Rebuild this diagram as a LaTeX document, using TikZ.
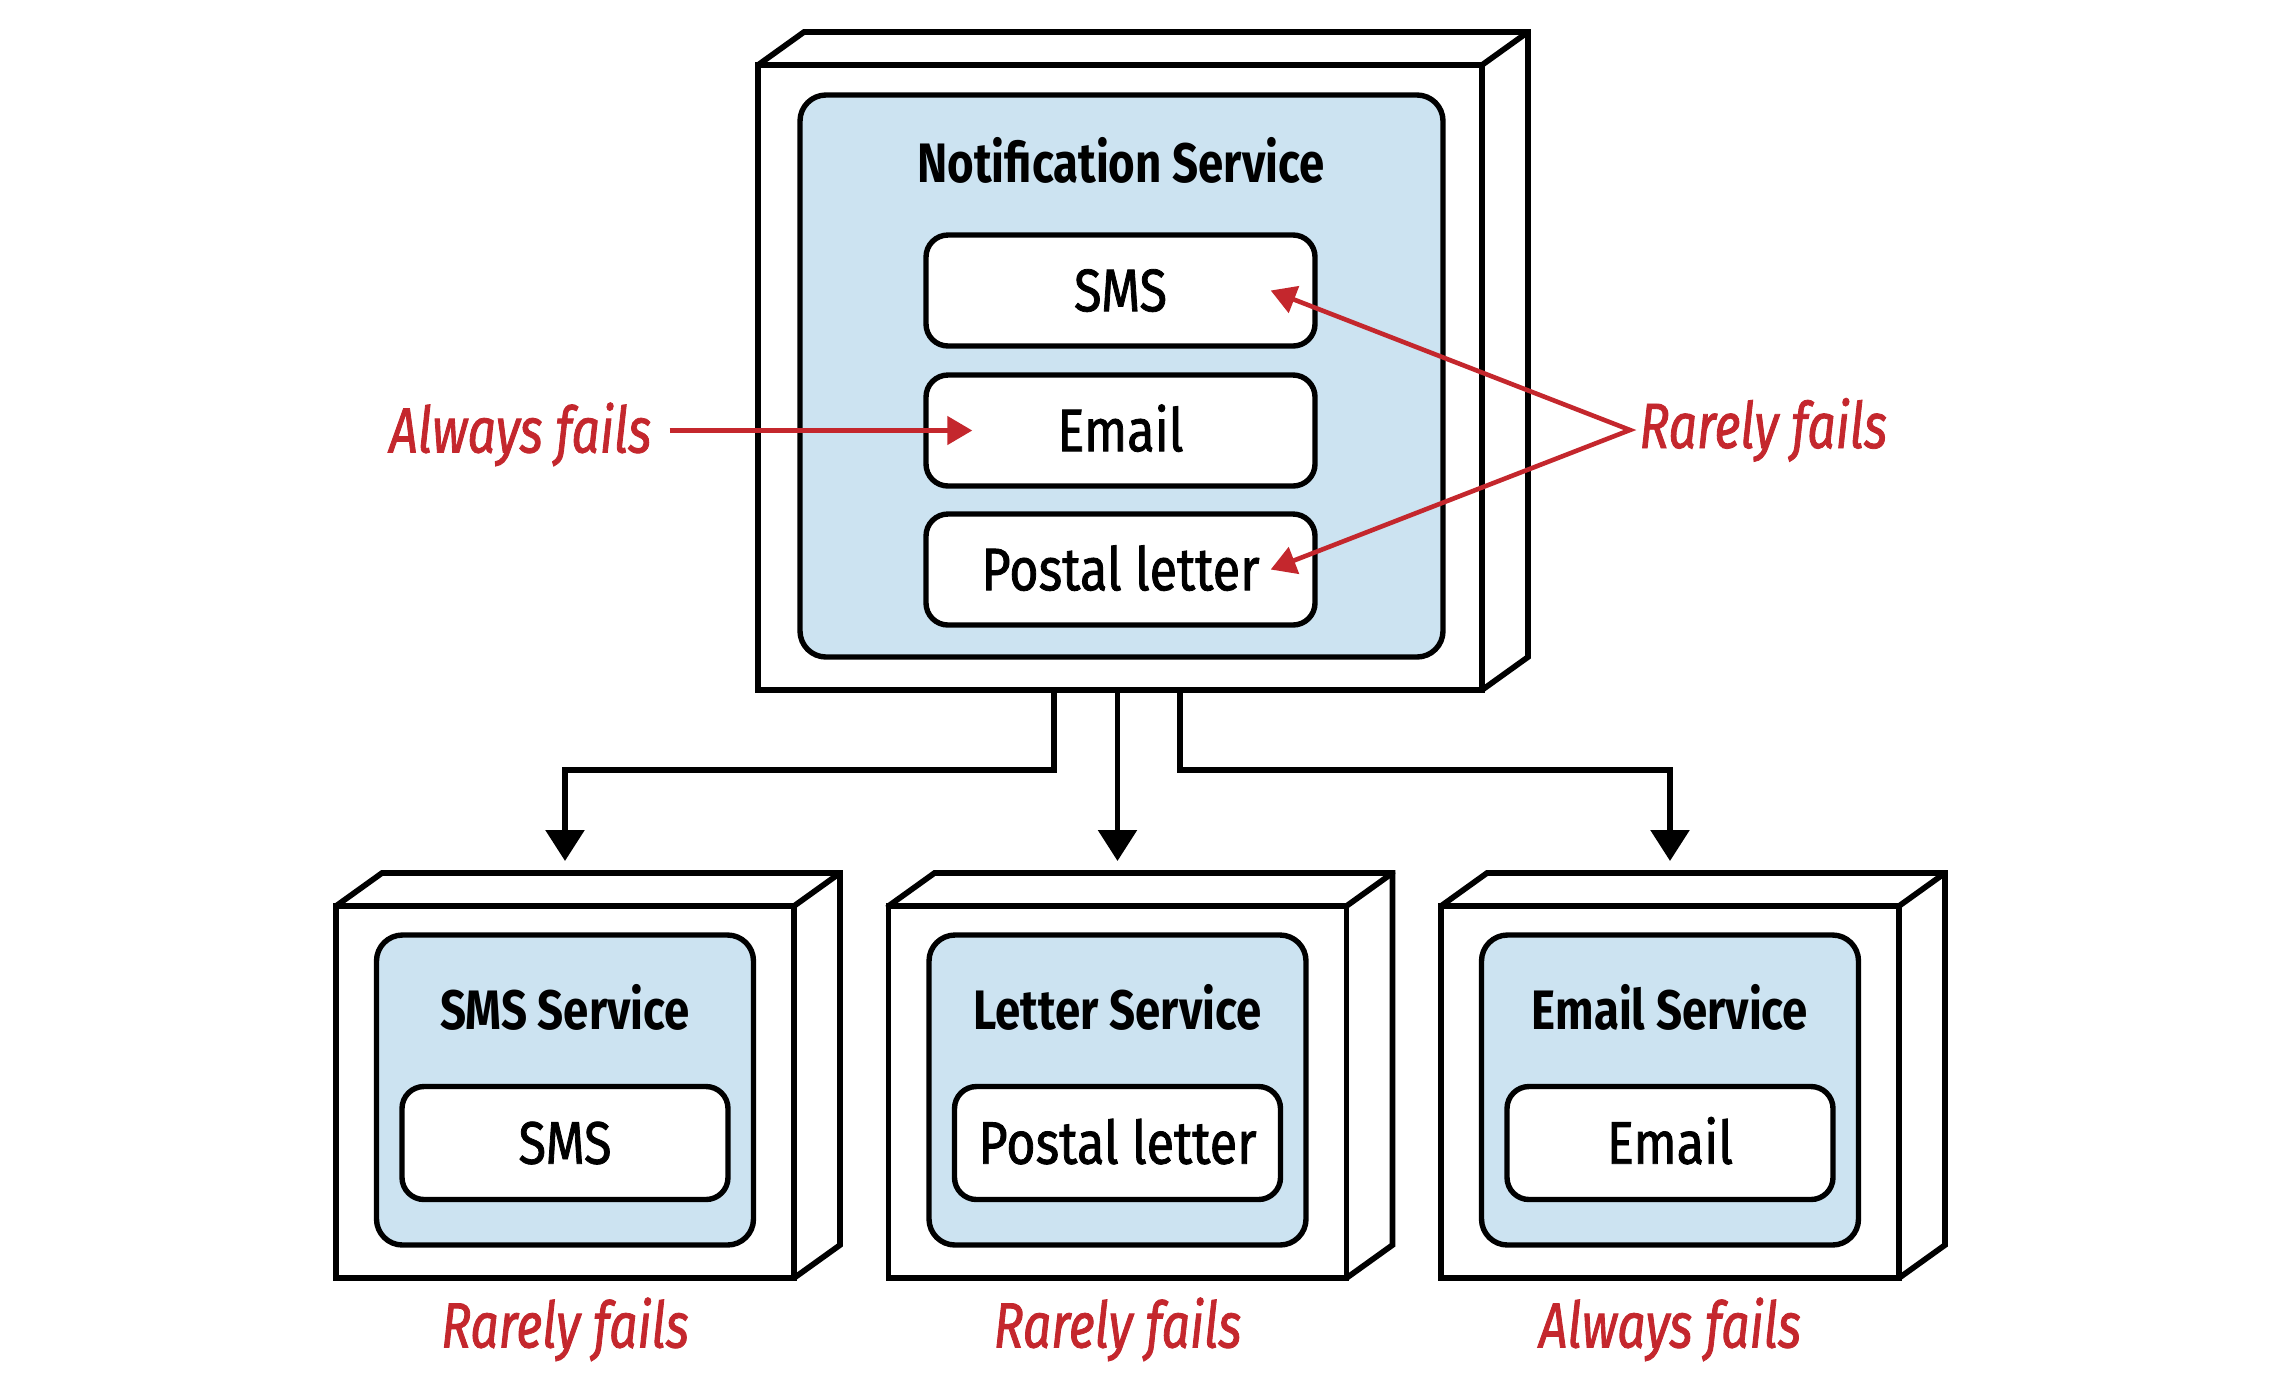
\documentclass[tikz,border=0pt]{standalone}
\usepackage{fontspec}
\setmainfont{Fira Sans}
\newfontfamily\regf[FakeStretch=0.84,FakeBold=1.3]{Fira Sans}
\newfontfamily\titf[FakeStretch=0.82]{Fira Sans}
\newfontfamily\redf[FakeStretch=0.78,FakeBold=1.3]{Fira Sans}
\usetikzlibrary{arrows.meta,calc}
\definecolor{failred}{HTML}{C4272D}
\definecolor{svcblue}{HTML}{CCE3F1}
\newcommand\boxdepth[1]{%
  \draw[edge] (#1.north west) -- ++(46,-33) -| ($(#1.south east)+(46,-33)$) -- (#1.south east);
  \draw[edge] (#1.north east) -- ++(46,-33);}
\begin{document}
\begin{tikzpicture}[x=0.5pt,y=-0.5pt,
  edge/.style={line width=2.85pt, black, line cap=round},
  hostbox/.style={draw, line width=2.85pt, fill=white, inner sep=0pt, outer sep=0pt},
  svcbox/.style={draw, line width=2.7pt, fill=svcblue, rounded corners=13pt, inner sep=0pt},
  itembox/.style={draw, line width=2.7pt, fill=white, rounded corners=11pt, inner sep=0pt,
    font=\regf\fontsize{30}{32}\selectfont, text height=20.7pt, text depth=0pt},
  svctitle/.style={inner sep=0pt, font=\titf\bfseries\fontsize{27.8}{30}\selectfont,
    text height=19pt, text depth=0pt},
  faillabel/.style={inner sep=0pt, text=failred, font=\redf\itshape\fontsize{32}{34}\selectfont,
    text height=22pt, text depth=0pt},
  conn/.style={line width=2.85pt, -{Triangle[length=15.5pt,width=19pt]}},
  failarrow/.style={line width=2.3pt, failred, -{Triangle[length=12.5pt,width=14pt]}},
  failboth/.style={line width=2.3pt, failred, {Triangle[length=12.5pt,width=14pt]}-{Triangle[length=12.5pt,width=14pt]}},
]
\useasboundingbox (0,0) rectangle (2280,1394);

% top host
\node[hostbox, minimum width=362pt, minimum height=312.5pt] (nf) at (1120,377.5) {};
\boxdepth{nf}
\node[svcbox, minimum width=321.5pt, minimum height=281pt] (ns) at (1121.5,376) {};
\node[svctitle] (nt) at (1121,163) {Notification Service};
\node[itembox, minimum width=194.5pt, minimum height=55.5pt] (nsms) at (1120.5,290.5) {SMS};
\node[itembox, minimum width=194.5pt, minimum height=55.5pt] (nemail) at (1120.5,430.5) {Email};
\node[itembox, minimum width=194.5pt, minimum height=55.5pt] (npost) at (1120.5,569.5) {Postal letter};

% bottom hosts
\foreach \cx/\nm/\ttl/\itm/\lbl in {565/s/SMS Service/SMS/Rarely fails,
    1117.5/l/Letter Service/Postal letter/Rarely fails,
    1670/e/Email Service/Email/Always fails}{
  \node[hostbox, minimum width=229pt, minimum height=186pt] (\nm f) at (\cx,1092) {};
  \boxdepth{\nm f}
  \node[svcbox, minimum width=188.5pt, minimum height=155pt] (\nm s) at (\cx,1090) {};
  \node[svctitle] (\nm t) at (\cx,1010.5) {\ttl};
  \node[itembox, minimum width=163pt, minimum height=56.5pt] (\nm i) at (\cx,1143) {\itm};
  \node[faillabel] (\nm r) at (\cx,1325.5) {\lbl};
}

% connectors
\draw[conn] ($(nf.south)+(-66,0)$) |- ($(sf.north)+(0,-136)$) -- ($(sf.north)+(0,-45)$);
\draw[conn] (lf.north |- nf.south) -- ($(lf.north)+(0,-45)$);
\draw[conn] ($(nf.south)+(60,0)$) |- ($(ef.north)+(0,-136)$) -- ($(ef.north)+(0,-45)$);

% red annotations
\node[faillabel, anchor=west] (af) at (389,430.5) {Always fails};
\draw[failarrow] ($(af.east)+(18,0)$) -- ($(nemail.west)+(49,0)$);
\node[faillabel, anchor=west] (rf) at (1639,426) {Rarely fails};
\coordinate (rj) at ($(rf.west)+(-9,4)$);
\draw[failboth] ($(nsms.east)+(-47,0)$) -- (rj) -- ($(npost.east)+(-47,0)$);
\end{tikzpicture}
\end{document}
